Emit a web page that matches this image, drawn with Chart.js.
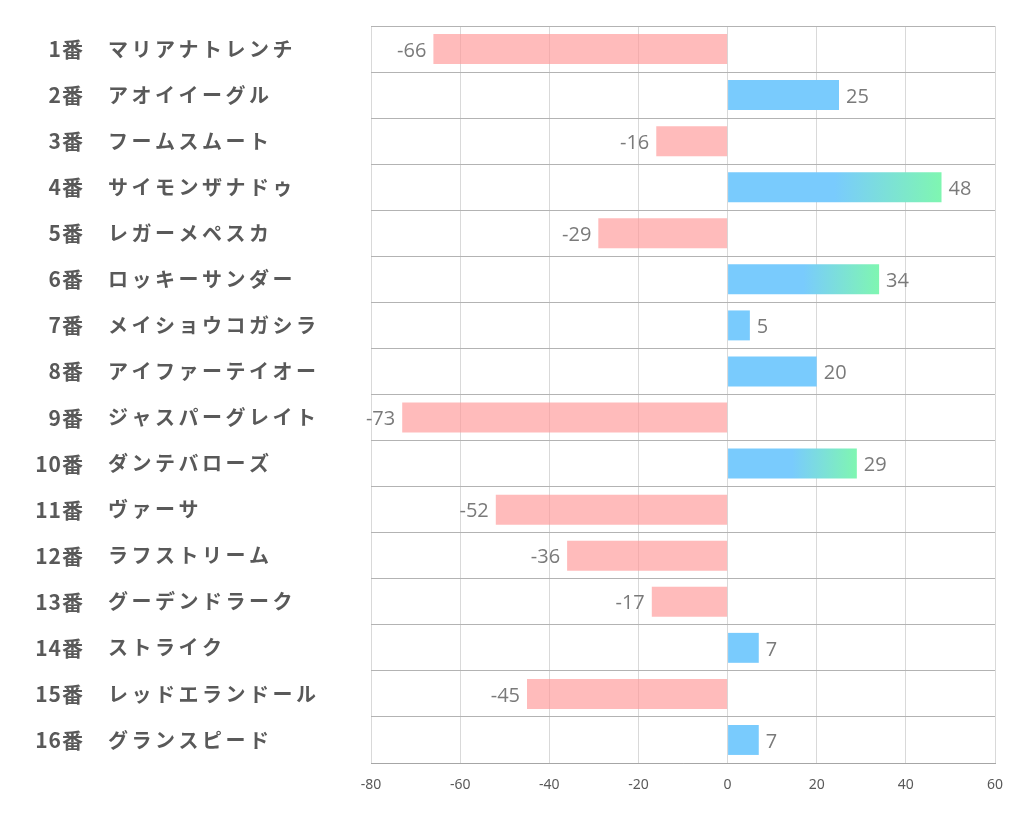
<!DOCTYPE html>
<html lang="ja">
<head>
<meta charset="utf-8">
<title>horse chart</title>
<script src="https://cdn.jsdelivr.net/npm/chart.js@4/dist/chart.umd.min.js"></script>
<style>
  html, body { margin: 0; padding: 0; background: #fff; }
  #wrap { width: 1022px; height: 834px; }
</style>
</head>
<body>
<div id="wrap"><canvas id="chart" width="1022" height="834"></canvas></div>
<script>
// ---- data ----
const horseNumbers = ['1番', '2番', '3番', '4番', '5番', '6番', '7番', '8番',
                      '9番', '10番', '11番', '12番', '13番', '14番', '15番', '16番'];
const horseNames = ['マリアナトレンチ', 'アオイイーグル', 'フームスムート', 'サイモンザナドゥ',
                    'レガーメペスカ', 'ロッキーサンダー', 'メイショウコガシラ', 'アイファーテイオー',
                    'ジャスパーグレイト', 'ダンテバローズ', 'ヴァーサ', 'ラフストリーム',
                    'グーデンドラーク', 'ストライク', 'レッドエランドール', 'グランスピード'];
const scores = [-66, 25, -16, 48, -29, 34, 5, 20, -73, 29, -52, -36, -17, 7, -45, 7];
const xTicks = [-80, -60, -40, -20, 0, 20, 40, 60];

const PINK  = 'rgba(255,150,150,0.65)';
const BLUE  = '#79cbfd';
const GREEN = '#7ff6b1';
const TEXT  = '#595959';

// top three scores get the blue -> green fade
const top3 = [...scores].sort((a, b) => b - a).slice(0, 3);

function barColor(ctx) {
  const v = ctx.raw;
  if (v < 0) return PINK;
  if (!top3.includes(v)) return BLUE;
  const x = ctx.chart.scales.x;
  if (!x) return BLUE;
  const x0 = x.getPixelForValue(0), x1 = x.getPixelForValue(v);
  const g = ctx.chart.ctx.createLinearGradient(x0, 0, x1, 0);
  g.addColorStop(0, BLUE);
  g.addColorStop(0.5, BLUE);
  g.addColorStop(1, GREEN);
  return g;
}

// left-hand labels: number right aligned, name left aligned
const rowLabels = {
  id: 'rowLabels',
  afterDraw(chart) {
    const { ctx, scales: { y } } = chart;
    ctx.save();
    ctx.fillStyle = TEXT;
    ctx.textBaseline = 'middle';
    horseNumbers.forEach((n, i) => {
      const py = y.getPixelForValue(i);
      ctx.font = 'bold 21px "Noto Sans CJK JP", sans-serif';
      ctx.letterSpacing = '1px';
      ctx.textAlign = 'right';
      ctx.fillText(n, 84, py);
      ctx.font = 'bold 20px "Noto Sans CJK JP", sans-serif';
      ctx.letterSpacing = '3.5px';
      ctx.textAlign = 'left';
      ctx.fillText(horseNames[i], 108, py);
    });
    ctx.restore();
  }
};

// value next to the end of each bar
const valueLabels = {
  id: 'valueLabels',
  afterDatasetsDraw(chart) {
    const { ctx } = chart;
    const meta = chart.getDatasetMeta(0);
    ctx.save();
    ctx.fillStyle = '#7a7a7a';
    ctx.font = '20px "Open Sans", sans-serif';
    ctx.textBaseline = 'middle';
    meta.data.forEach((bar, i) => {
      const v = scores[i];
      ctx.textAlign = v < 0 ? 'right' : 'left';
      ctx.fillText(String(v), bar.x + (v < 0 ? -7 : 7), bar.y + 2);
    });
    ctx.restore();
  }
};

new Chart(document.getElementById('chart'), {
  type: 'bar',
  data: {
    labels: horseNumbers,
    datasets: [{
      data: scores,
      backgroundColor: barColor,
      borderWidth: 0,
      categoryPercentage: 1,
      barPercentage: 0.65
    }]
  },
  options: {
    indexAxis: 'y',
    responsive: false,
    animation: false,
    layout: { padding: { left: 0, right: 27, top: 26, bottom: 0 } },
    plugins: { legend: { display: false }, tooltip: { enabled: false } },
    scales: {
      x: {
        min: -80, max: 60,
        afterBuildTicks: s => { s.ticks = xTicks.map(v => ({ value: v })); },
        afterFit: s => { s.height = 71; },
        grid: { color: '#d9d9d9', drawTicks: false },
        border: { color: '#a6a6a6' },
        ticks: { color: TEXT, padding: 14, font: { size: 14, family: '"Noto Sans", sans-serif' } }
      },
      y: {
        afterFit: s => { s.width = 371; },
        grid: { color: '#b3b3b3', drawTicks: false },
        border: { display: false },
        ticks: { display: false }
      }
    }
  },
  plugins: [rowLabels, valueLabels]
});
</script>
</body>
</html>
